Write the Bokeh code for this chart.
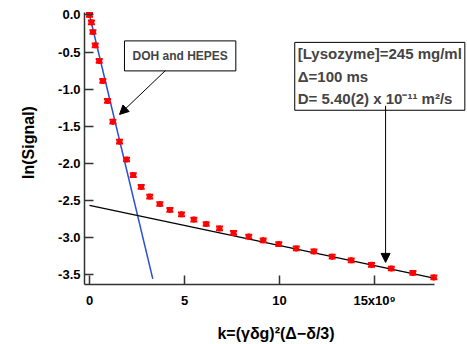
from bokeh.plotting import figure
from bokeh.models import Label, Arrow, NormalHead, PrintfTickFormatter, FixedTicker
from bokeh.embed import file_html
from bokeh.resources import INLINE

k_vals = [0.0, 0.10, 0.18, 0.30, 0.51, 0.70, 0.95, 1.23, 1.58, 1.95, 2.30, 2.72, 3.17, 3.70,
          4.23, 4.84, 5.49, 6.14, 6.84, 7.58, 8.38, 9.14, 9.96, 10.88, 11.81, 12.77, 13.77,
          14.84, 15.88, 17.02, 18.12]
ln_signal = [0.0, -0.10, -0.23, -0.41, -0.62, -0.89, -1.16, -1.44, -1.71, -1.95, -2.16, -2.32,
             -2.45, -2.55, -2.63, -2.69, -2.76, -2.82, -2.88, -2.94, -2.99, -3.04, -3.09, -3.15,
             -3.19, -3.26, -3.31, -3.37, -3.42, -3.48, -3.54]
err = [0.025] * len(k_vals)

fast_k = [0.0, 3.33]
fast_fit = [0.0, -3.56]
slow_k = [0.0, 18.12]
slow_fit = [-2.57, -3.55]

x_ticks = [0, 5, 10, 15]
x_tick_labels = {0: "0", 5: "5", 10: "10", 15: "15x10⁹"}
y_ticks = [0.0, -0.5, -1.0, -1.5, -2.0, -2.5, -3.0, -3.5]

FONT = "Liberation Sans"

p = figure(width=467, height=344, output_backend="svg", toolbar_location=None,
           x_range=(-0.263, 19.89), y_range=(-3.636, 0.195),
           min_border_left=84, min_border_right=0, min_border_top=0, min_border_bottom=49)
p.outline_line_color = None
p.grid.visible = False
p.background_fill_color = "white"
p.border_fill_color = "white"

for ax in (p.xaxis[0], p.yaxis[0]):
    ax.axis_line_color = "#333333"
    ax.axis_line_width = 1.5
    ax.major_tick_line_color = "#333333"
    ax.major_tick_line_width = 1.5
    ax.major_tick_out = 0
    ax.major_tick_in = 9
    ax.minor_tick_line_color = None
    ax.major_label_text_font = FONT
    ax.major_label_text_font_style = "bold"
    ax.major_label_text_font_size = "13px"
    ax.major_label_text_color = "black"
    ax.axis_label_text_font = FONT
    ax.axis_label_text_font_style = "bold"
    ax.axis_label_text_font_size = "16px"
    ax.axis_label_text_color = "black"

p.xaxis.bounds = (-0.263, 18.15)
p.yaxis.bounds = (-3.636, 0.03)
p.xaxis.ticker = FixedTicker(ticks=x_ticks)
p.xaxis.major_label_overrides = x_tick_labels
p.yaxis.ticker = FixedTicker(ticks=y_ticks)
p.yaxis.formatter = PrintfTickFormatter(format="%.1f")
p.xaxis.major_label_standoff = 8
p.yaxis.major_label_standoff = 4
p.xaxis.axis_label = "k=(γδg)²(Δ−δ/3)"
p.yaxis.axis_label = "ln(Signal)"
p.xaxis.axis_label_standoff = 14
p.yaxis.axis_label_standoff = 18

# fits
p.line(fast_k, fast_fit, line_color="#2a4fd6", line_width=1.5)
p.line(slow_k, slow_fit, line_color="black", line_width=1.3)

# data with error bars
lo = [v - e for v, e in zip(ln_signal, err)]
hi = [v + e for v, e in zip(ln_signal, err)]
p.segment(k_vals, lo, k_vals, hi, line_color="red", line_width=2)
p.scatter(k_vals, lo, marker="dash", size=7, line_color="red", line_width=2)
p.scatter(k_vals, hi, marker="dash", size=7, line_color="red", line_width=2)
p.scatter(k_vals, ln_signal, marker="cross", size=6, line_color="red", line_width=2.5)

# annotations
lab1 = Label(x=1.84, y=-0.35, text="DOH and HEPES", text_font=FONT, text_font_style="bold",
             text_font_size="12px", text_align="left", text_baseline="top",
             border_line_color="black", border_line_width=1,
             background_fill_color="white", padding=8)
p.add_layout(lab1)
p.add_layout(Arrow(end=NormalHead(size=9, fill_color="black", line_color="black"),
                   x_start=4.0, y_start=-0.749, x_end=1.58, y_end=-1.342,
                   line_color="black", line_width=1))

lab2 = Label(x=10.8, y=-0.37,
             text="[Lysozyme]=245 mg/ml\nΔ=100 ms\nD= 5.40(2) x 10⁻¹¹ m²/s",
             text_font=FONT, text_font_style="bold", text_font_size="15px",
             text_align="left", text_baseline="top", text_line_height=1.32,
             border_line_color="black", border_line_width=1,
             background_fill_color="white", padding=3)
p.add_layout(lab2)
p.add_layout(Arrow(end=NormalHead(size=9, fill_color="black", line_color="black"),
                   x_start=15.58, y_start=-1.226, x_end=15.58, y_end=-3.338,
                   line_color="black", line_width=1))

open("out.html", "w").write(file_html(p, INLINE))
